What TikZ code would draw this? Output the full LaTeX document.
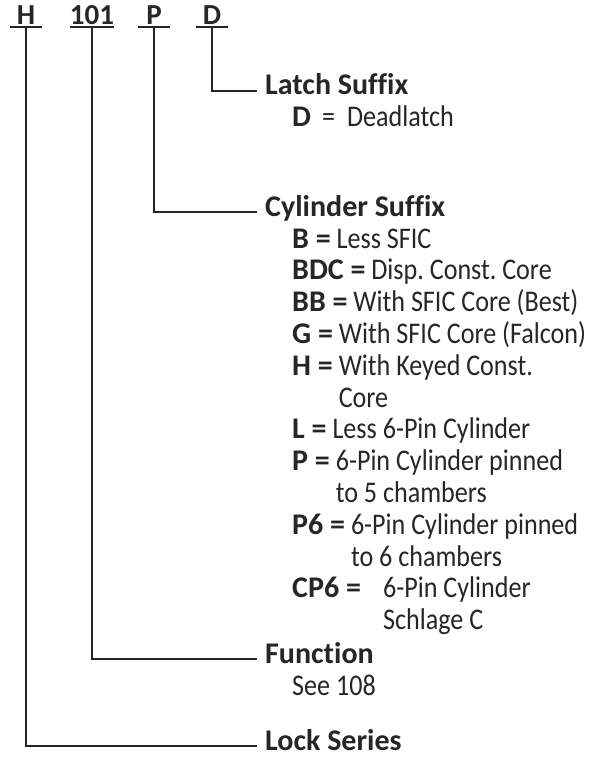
\documentclass[tikz,border=0pt]{standalone}
\usepackage{fontspec}
\setmainfont{Carlito}[Ligatures=NoCommon, UprightFeatures={FakeStretch=0.87}]
\frenchspacing
\newcommand\itemfont{\fontsize{30}{32}\selectfont}
\newcommand\headfont{\fontsize{30}{32}\selectfont\bfseries}
\newcommand\codefont{\fontsize{29}{32}\selectfont\bfseries}
\tikzset{
  rule/.style={line width=2.2pt, color=black!85},
  code/.style={font=\codefont, inner xsep=0pt, inner ysep=2pt, minimum width=31pt, anchor=base, text=black!85},
  head/.style={font=\headfont, inner sep=0pt, inner xsep=8pt, anchor=base west, text=black!85},
  item/.style={font=\itemfont, inner sep=0pt, anchor=base west, text=black!85},
}
\begin{document}
\begin{tikzpicture}[x=1pt, y=-1pt]
    \useasboundingbox (0,0) rectangle (592,757);

    % Code
    \node[code] (h) at (26,25) {H};
    \node[code] (fn) at (92,25) {101};
    \node[code] (p) at (154,25) {P};
    \node[code] (d) at (212,25) {D};
    \foreach \c in {h,fn,p,d}
        \draw[rule] (\c.south west) -- (\c.south east);

    % Latch Suffix
    \node[head] (latch) at (257,95) {Latch Suffix};
    \node[item] (dl) at (292,127) {\textbf{D}\hspace{11pt}=\hspace{12pt}Deadlatch};
    \draw[rule] (d.south) |- ([yshift=2pt]latch.mid west);

    % Cylinder Suffix
    \node[head] (cyl) at (257,216) {Cylinder Suffix};
    \node[item] (b) at (292,248) {\textbf{B =} Less SFIC};
    \node[item] (bdc) at (292,279.8) {\textbf{BDC =} Disp. Const. Core};
    \node[item] (bb) at (292,311.6) {\textbf{BB =} With SFIC Core (Best)};
    \node[item] (g) at (292,343.4) {\textbf{G =} With SFIC Core (Falcon)};
    \node[item] (hk) at (292,375.2) {\textbf{H =} With Keyed Const.};
    \node[item] (hk2) at (292,407) {\phantom{\textbf{H =} }Core};
    \node[item] (l) at (292,438.8) {\textbf{L =} Less 6-Pin Cylinder};
    \node[item] (p5) at (292,470.6) {\textbf{P =} 6-Pin Cylinder pinned};
    \node[item] (p52) at (292,502.4) {\phantom{\textbf{P =} }to 5 chambers};
    \node[item] (p6) at (292,534.2) {\textbf{P6 =} 6-Pin Cylinder pinned};
    \node[item] (p62) at (292,566) {\phantom{\textbf{P6 =} }to 6 chambers};
    \node[item] (cp6) at (292,597.8) {\textbf{CP6 =}};
    \node[item] (cp6v) at (383,597.8) {6-Pin Cylinder};
    \node[item] (cp6v2) at (383,629.6) {Schlage C};
    \draw[rule] (p.south) |- ([yshift=2pt]cyl.mid west);

    % Function
    \node[head] (func) at (257,663) {Function};
    \node[item] (see) at (292,695) {See 108};
    \draw[rule] (fn.south) |- ([yshift=2pt]func.mid west);

    % Lock Series
    \node[head] (series) at (257,750) {Lock Series};
    \draw[rule] (h.south) |- ([yshift=2pt]series.mid west);

\end{tikzpicture}
\end{document}
